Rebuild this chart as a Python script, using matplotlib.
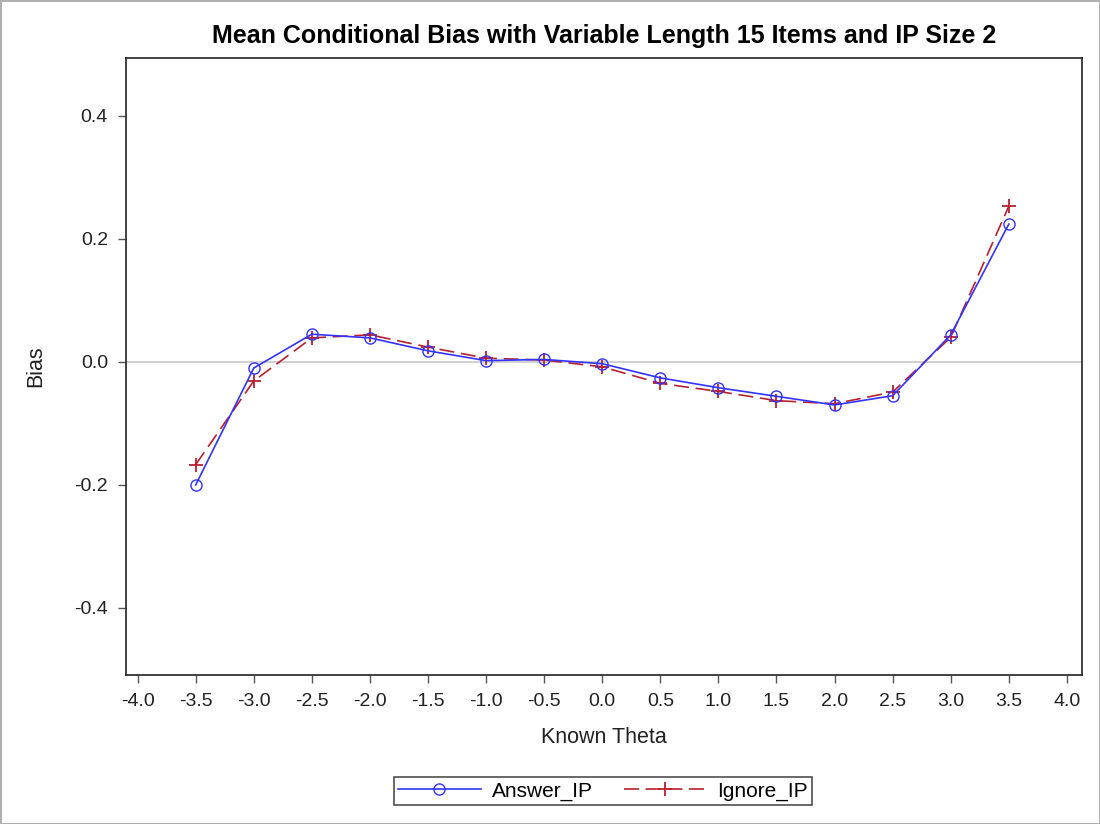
import matplotlib.pyplot as plt
import numpy as np

plt.rcParams['font.family'] = ['Liberation Sans', 'DejaVu Sans']

# data
theta = [-3.5, -3.0, -2.5, -2.0, -1.5, -1.0, -0.5, 0.0, 0.5, 1.0, 1.5, 2.0, 2.5, 3.0, 3.5]
answer_ip = [-0.200, -0.010, 0.045, 0.039, 0.018, 0.002, 0.004, -0.003, -0.026, -0.042,
             -0.056, -0.070, -0.055, 0.044, 0.224]
ignore_ip = [-0.167, -0.031, 0.039, 0.044, 0.024, 0.006, 0.003, -0.008, -0.035, -0.048,
             -0.063, -0.068, -0.049, 0.040, 0.253]
xticks = np.arange(-4.0, 4.01, 0.5)
yticks = [-0.4, -0.2, 0.0, 0.2, 0.4]

fig = plt.figure(figsize=(11, 8.24), dpi=100)
fig.patch.set_edgecolor('#b0b0b0')
fig.patch.set_linewidth(2)
ax = fig.add_axes([126/1100, 1 - 675/824, (1082-126)/1100, (675-58)/824])

ax.axhline(0, color='#c8c8c8', linewidth=1.2, zorder=1)
ax.plot(theta, answer_ip, color='#3333ff', linewidth=1.2, marker='o', markersize=8,
        markerfacecolor='none', markeredgecolor='#3333ff', label='Answer_IP', zorder=3)
ax.plot(theta, ignore_ip, color='#b8202e', linewidth=1.2, linestyle=(0, (9, 4)), marker='+',
        markersize=10, markeredgewidth=1.3, label='Ignore_IP', zorder=2)

ax.set_xlim(-4.1, 4.13)
ax.set_ylim(-0.509, 0.494)
ax.set_xticks(xticks)
ax.set_xticklabels(['%.1f' % v for v in xticks])
ax.set_yticks(yticks)
ax.set_yticklabels(['%.1f' % v for v in yticks])
ax.tick_params(labelsize=14, length=6, width=1, color='#555555', labelcolor='#222222', pad=7)
for s in ax.spines.values():
    s.set_linewidth(1.2)
    s.set_color('#222222')

ax.set_xlabel('Known Theta', fontsize=15.5, color='#222222', labelpad=12)
ax.set_ylabel('Bias', fontsize=15.5, color='#222222', labelpad=20)
ax.set_title('Mean Conditional Bias with Variable Length 15 Items and IP Size 2',
             fontsize=18, fontweight='bold', pad=11)

leg = fig.legend(loc='center', bbox_to_anchor=(603/1100, 1 - 791/824), ncol=2,
                 fontsize=15, frameon=True, fancybox=False, handlelength=4,
                 handletextpad=0.5, columnspacing=1.5, borderpad=0.2)
leg.get_frame().set_edgecolor('#222222')
leg.get_frame().set_linewidth(1.2)

fig.savefig('out.png', dpi=100)
